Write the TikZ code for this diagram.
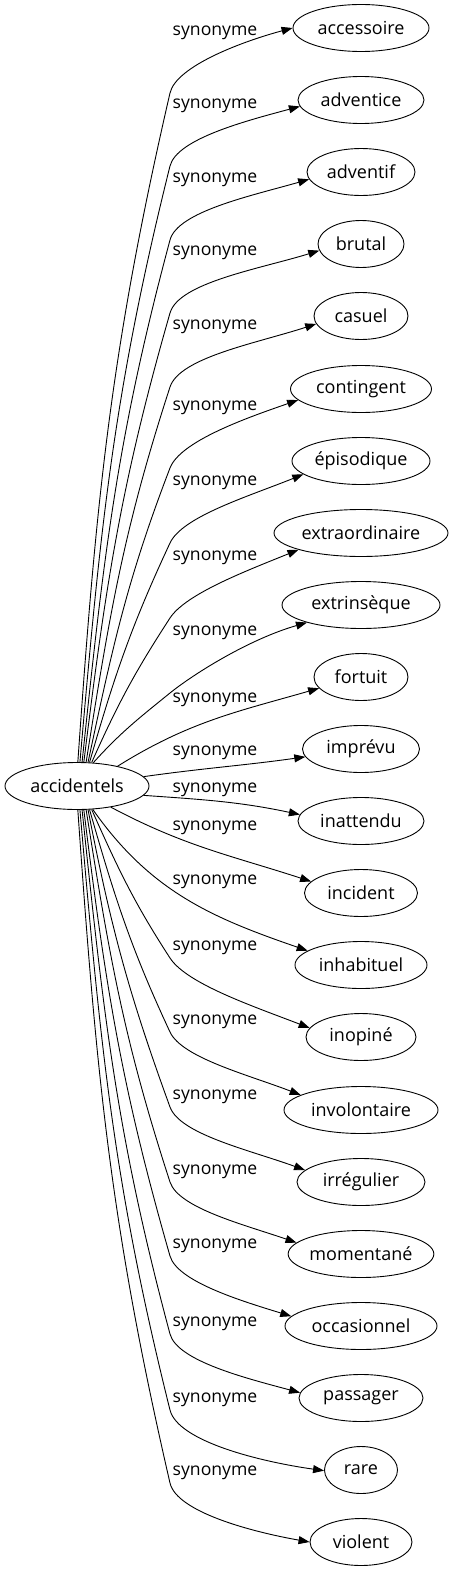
\documentclass[tikz,border=0pt]{standalone}
\usepackage{fontspec}
\setmainfont{Open Sans}
\usetikzlibrary{arrows.meta,shapes.geometric}
\newcommand\nodefont{\fontsize{18}{21}\selectfont}
\newcommand\labfont{\fontsize{17.6}{20}\selectfont}
\begin{document}
\begin{tikzpicture}[x=1pt,y=1pt,
  ell/.style={ellipse, draw, line width=0.9pt, inner sep=0pt, minimum height=47pt, font=\nodefont},
  lab/.style={font=\labfont, inner sep=0pt},
  edge/.style={draw, line width=0.9pt, -{Triangle[length=11pt,width=8pt]}}]
\useasboundingbox (0,0) rectangle (453,-1571);
\node[ell, minimum width=144pt] (src) at (77,-786) {accidentels};
\node[ell, minimum width=136pt] (t0) at (361,-28) {accessoire};
\node[ell, minimum width=126pt] (t1) at (361,-100) {adventice};
\node[ell, minimum width=108pt] (t2) at (361,-172) {adventif};
\node[ell, minimum width=86pt] (t3) at (361,-244) {brutal};
\node[ell, minimum width=94pt] (t4) at (361,-316) {casuel};
\node[ell, minimum width=141pt] (t5) at (361,-389) {contingent};
\node[ell, minimum width=138pt] (t6) at (361,-461) {épisodique};
\node[ell, minimum width=174pt] (t7) at (361,-533) {extraordinaire};
\node[ell, minimum width=158pt] (t8) at (361,-605) {extrinsèque};
\node[ell, minimum width=94pt] (t9) at (361,-677) {fortuit};
\node[ell, minimum width=117pt] (t10) at (361,-749) {imprévu};
\node[ell, minimum width=126pt] (t11) at (361,-821) {inattendu};
\node[ell, minimum width=113pt] (t12) at (361,-893) {incident};
\node[ell, minimum width=132pt] (t13) at (361,-965) {inhabituel};
\node[ell, minimum width=110pt] (t14) at (361,-1037) {inopiné};
\node[ell, minimum width=154pt] (t15) at (361,-1110) {involontaire};
\node[ell, minimum width=128pt] (t16) at (361,-1182) {irrégulier};
\node[ell, minimum width=140pt] (t17) at (361,-1254) {momentané};
\node[ell, minimum width=152pt] (t18) at (361,-1326) {occasionnel};
\node[ell, minimum width=124pt] (t19) at (361,-1398) {passager};
\node[ell, minimum width=73pt] (t20) at (361,-1470) {rare};
\node[ell, minimum width=102pt] (t21) at (361,-1542) {violent};
% labels
\node[lab] (l0) at (215,-33) {synonyme};
\node[lab] (l1) at (215,-106) {synonyme};
\node[lab] (l2) at (215,-180) {synonyme};
\node[lab] (l3) at (215,-253) {synonyme};
\node[lab] (l4) at (215,-327) {synonyme};
\node[lab] (l5) at (215,-408) {synonyme};
\node[lab] (l6) at (215,-483) {synonyme};
\node[lab] (l7) at (215,-558) {synonyme};
\node[lab] (l8) at (215,-633) {synonyme};
\node[lab] (l9) at (215,-700) {synonyme};
\node[lab] (l10) at (215,-753) {synonyme};
\node[lab] (l11) at (215,-790) {synonyme};
\node[lab] (l12) at (215,-828) {synonyme};
\node[lab] (l13) at (215,-882) {synonyme};
\node[lab] (l14) at (215,-948) {synonyme};
\node[lab] (l15) at (215,-1022) {synonyme};
\node[lab] (l16) at (215,-1097) {synonyme};
\node[lab] (l17) at (215,-1172) {synonyme};
\node[lab] (l18) at (215,-1246) {synonyme};
\node[lab] (l19) at (215,-1324) {synonyme};
\node[lab] (l20) at (215,-1400) {synonyme};
\node[lab] (l21) at (215,-1473) {synonyme};
% upper edges
\draw[edge] (src.88) to[out=86,in=257] (170,-93) to[out=77,in=195,out looseness=0.5] (t0.180);
\draw[edge] (src.83) to[out=85,in=256] (170,-166) to[out=76,in=195,out looseness=0.5] (t1.186);
\draw[edge] (src.78) to[out=84,in=255] (170,-240) to[out=75,in=196,out looseness=0.5] (t2.188);
\draw[edge] (src.74) to[out=83,in=254] (170,-313) to[out=74,in=197,out looseness=0.5] (t3.189);
\draw[edge] (src.69) to[out=81,in=252] (170,-387) to[out=72,in=198,out looseness=0.5] (t4.190);
\draw[edge] (src.65) to[out=78,in=249] (170,-468) to[out=69,in=199,out looseness=0.5] (t5.190);
\draw[edge] (src.62) to[out=74,in=245] (170,-543) to[out=65,in=202,out looseness=0.5] (t6.193);
\draw[edge] (src.58) to[out=66,in=237] (170,-618) to[out=57,in=202,out looseness=0.5] (t7.195);
\draw[edge] (src.55) to[out=48,in=219] (170,-693) to[out=39,in=196,out looseness=0.5] (t8.198);
% near edges
\draw[edge] (src.26) to[out=32,in=196] (t9.195);
\draw[edge] (src.8) to[out=8,in=188] (t10.188);
\draw[edge] (src.352) to[out=-4,in=168] (t11.174);
\draw[edge] (src.328) to[out=-28,in=162] (t12.167);
\draw[edge] (src.304) to[out=-55,in=161] (t13.165);
% lower edges
\draw[edge] (src.302) to[out=294,in=123] (170,-958) to[out=-57,in=159,out looseness=0.5] (t14.170);
\draw[edge] (src.298) to[out=286,in=115] (170,-1032) to[out=-65,in=159,out looseness=0.5] (t15.166);
\draw[edge] (src.295) to[out=281,in=110] (170,-1107) to[out=-70,in=160,out looseness=0.5] (t16.168);
\draw[edge] (src.291) to[out=279,in=108] (170,-1182) to[out=-72,in=161,out looseness=0.5] (t17.170);
\draw[edge] (src.286) to[out=277,in=106] (170,-1256) to[out=-74,in=163,out looseness=0.5] (t18.172);
\draw[edge] (src.282) to[out=276,in=105] (170,-1334) to[out=-75,in=165,out looseness=0.5] (t19.175);
\draw[edge] (src.277) to[out=275,in=104] (170,-1410) to[out=-76,in=172,out looseness=0.5] (t20.181);
\draw[edge] (src.272) to[out=274,in=103] (170,-1483) to[out=-77,in=170,out looseness=0.5] (t21.180);
\end{tikzpicture}
\end{document}
